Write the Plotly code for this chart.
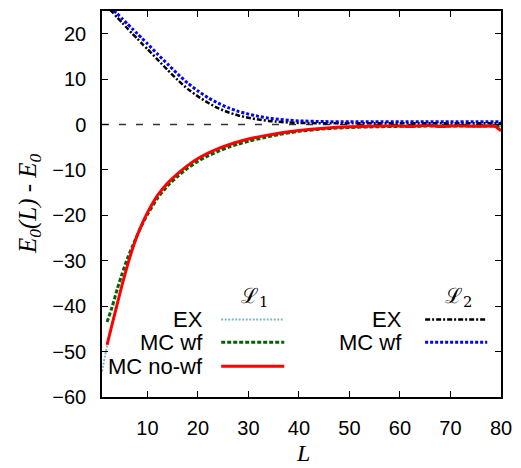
import plotly.graph_objects as go

# ---- data -------------------------------------------------------------
# lattice L1: exact result, MC with wave-function, MC without wave-function
L_ex1 = [1, 2, 3, 4, 5, 6, 7, 8, 9, 10, 12, 14, 16, 18, 20, 22, 24, 26, 28, 30,
         33, 36, 40, 45, 50, 55, 60, 65, 70, 75, 80]
E_ex1 = [-54.4, -48.7, -44.1, -39.7, -35.3, -31.3, -27.6, -24.5, -21.8, -19.5,
         -15.7, -13.0, -10.9, -9.1, -7.6, -6.4, -5.4, -4.6, -3.9, -3.3,
         -2.6, -2.0, -1.4, -0.9, -0.6, -0.4, -0.35, -0.3, -0.3, -0.3, -0.3]

L_wf1 = [2, 3, 4, 5, 6, 7, 8, 9, 10, 12, 14, 16, 18, 20, 22, 24, 26, 28, 30,
         33, 36, 40, 45, 50, 55, 60, 65, 70, 75, 80]
E_wf1 = [-43.5, -40.2, -36.3, -32.8, -29.6, -26.9, -24.3, -21.9, -19.8,
         -16.2, -13.5, -11.4, -9.6, -8.1, -6.9, -5.9, -5.0, -4.3, -3.7,
         -2.9, -2.2, -1.5, -0.95, -0.65, -0.5, -0.4, -0.35, -0.35, -0.35, -0.35]

L_nowf1 = [2, 3, 4, 5, 6, 7, 8, 9, 10, 12, 14, 16, 18, 20, 22, 24, 26, 28, 30,
           33, 36, 40, 45, 50, 55, 60, 62, 64, 66, 68, 70, 72, 75, 78, 79, 80]
E_nowf1 = [-48.5, -44.0, -39.6, -35.2, -31.2, -27.5, -24.4, -21.7, -19.4,
           -15.6, -12.9, -10.8, -9.0, -7.5, -6.3, -5.3, -4.5, -3.8, -3.2,
           -2.5, -1.9, -1.3, -0.8, -0.5, -0.35, -0.3, -0.45, -0.25, -0.2,
           -0.45, -0.3, -0.25, -0.4, -0.35, -0.5, -1.4]

# lattice L2: exact result and MC with wave-function
L_2 = [1, 2, 3, 4, 5, 6, 7, 8, 9, 10, 12, 14, 16, 18, 20, 22, 24, 26, 28, 30,
       32, 34, 36, 38, 40, 45, 50, 55, 60, 65, 70, 75, 80]
E_ex2 = [26.8, 25.9, 24.8, 23.6, 22.4, 21.2, 20.0, 18.9, 17.7, 16.6, 14.3,
         12.0, 9.8, 7.8, 6.2, 4.8, 3.6, 2.7, 2.0, 1.5, 1.1, 0.8, 0.6, 0.45,
         0.35, 0.3, 0.3, 0.3, 0.3, 0.3, 0.3, 0.3, 0.3]
E_wf2 = [27.1, 26.3, 25.4, 24.4, 23.3, 22.2, 21.1, 20.0, 18.9, 17.8, 15.5,
         13.3, 11.1, 9.1, 7.4, 5.9, 4.7, 3.7, 2.9, 2.3, 1.8, 1.4, 1.15, 0.95,
         0.8, 0.65, 0.6, 0.6, 0.6, 0.6, 0.6, 0.6, 0.6]

x_ticks = [10, 20, 30, 40, 50, 60, 70, 80]
y_ticks = [-60, -50, -40, -30, -20, -10, 0, 10, 20]

# ---- styles -----------------------------------------------------------
TEAL = "#7fb8bf"
GREEN = "#006400"
RED = "#ff0000"
BLACK = "#000000"
BLUE = "#0000ff"

sty_ex1 = dict(color=TEAL, width=2, dash="2px,1.5px")
sty_wf1 = dict(color=GREEN, width=3, dash="4px,2px")
sty_nowf1 = dict(color=RED, width=3)
sty_ex2 = dict(color=BLACK, width=2.5, dash="5px,2px,2px,2px")
sty_wf2 = dict(color=BLUE, width=3, dash="3px,2px")

fig = go.Figure()

# zero reference line
fig.add_trace(go.Scatter(x=[1, 80], y=[0, 0], mode="lines",
                         line=dict(color="#333333", width=1.5, dash="7px,10px"),
                         hoverinfo="skip"))

for xs, ys, sty in [(L_ex1, E_ex1, sty_ex1), (L_wf1, E_wf1, sty_wf1),
                    (L_nowf1, E_nowf1, sty_nowf1), (L_2, E_ex2, sty_ex2),
                    (L_2, E_wf2, sty_wf2)]:
    fig.add_trace(go.Scatter(x=xs, y=ys, mode="lines",
                             line=dict(sty, shape="spline", smoothing=0.6),
                             cliponaxis=True))

# ---- hand-built key ---------------------------------------------------
W, H = 521, 468
ML, MR, MT, MB = 102, 14, 9, 71
pw, ph = W - ML - MR, H - MT - MB


def px(xpix):
    return (xpix - ML) / pw


def py(ypix):
    return (H - MB - ypix) / ph


shapes = []
annotations = []
key_font = dict(family="Liberation Sans, Arial, sans-serif", size=22, color="black")
rows = [319, 342, 366]

groups = [
    ("ℒ<sub>1</sub>", 257, 207, 223, 287,
     [("EX", sty_ex1), ("MC wf", sty_wf1), ("MC no-wf", sty_nowf1)]),
    ("ℒ<sub>2</sub>", 464, 409, 430, 493,
     [("EX", sty_ex2), ("MC wf", sty_wf2)]),
]
for head, hx, tx, sx0, sx1, entries in groups:
    annotations.append(dict(x=px(hx), y=py(296), xref="paper", yref="paper",
                            text=head, showarrow=False, xanchor="center", yanchor="middle",
                            font=dict(family="DejaVu Serif, serif", size=21, color="black")))
    for (label, sty), ry in zip(entries, rows):
        annotations.append(dict(x=px(tx), y=py(ry), xref="paper", yref="paper",
                                text=label, showarrow=False, xanchor="right",
                                yanchor="middle", font=key_font))
        shapes.append(dict(type="line", xref="paper", yref="paper",
                           x0=px(sx0), x1=px(sx1), y0=py(ry), y1=py(ry),
                           line=dict(color=sty["color"], width=sty["width"],
                                     dash=sty.get("dash", "solid"))))

# axis titles
title_font = dict(family="Liberation Serif, Times New Roman, serif", size=25, color="black")
annotations.append(dict(x=px(28), y=0.5, xref="paper", yref="paper",
                        text="<i>E<sub>0</sub>(L) - E<sub>0</sub></i>", textangle=-90,
                        showarrow=False, xanchor="center", yanchor="middle", font=title_font))
annotations.append(dict(x=px(306), y=py(453), xref="paper", yref="paper",
                        text="<i>L</i>", showarrow=False, xanchor="center",
                        yanchor="middle", font=dict(title_font, size=24)))

axis_common = dict(showline=True, linecolor="black", linewidth=1.5, mirror="allticks",
                   ticks="inside", ticklen=6, tickwidth=1.2, tickcolor="black",
                   showgrid=False, zeroline=False,
                   tickfont=dict(family="Liberation Sans, Arial, sans-serif", size=20,
                                 color="black"))

fig.update_layout(
    width=W, height=H,
    margin=dict(l=ML, r=MR, t=MT, b=MB, pad=0),
    paper_bgcolor="white", plot_bgcolor="white",
    showlegend=False,
    xaxis=dict(axis_common, range=[1, 80], tickvals=x_ticks, ticklabelstandoff=12),
    yaxis=dict(axis_common, range=[-60, 25], tickvals=y_ticks, ticklabelstandoff=10),
    shapes=shapes,
    annotations=annotations,
)

fig.write_html("out.html", config={"displayModeBar": False})
